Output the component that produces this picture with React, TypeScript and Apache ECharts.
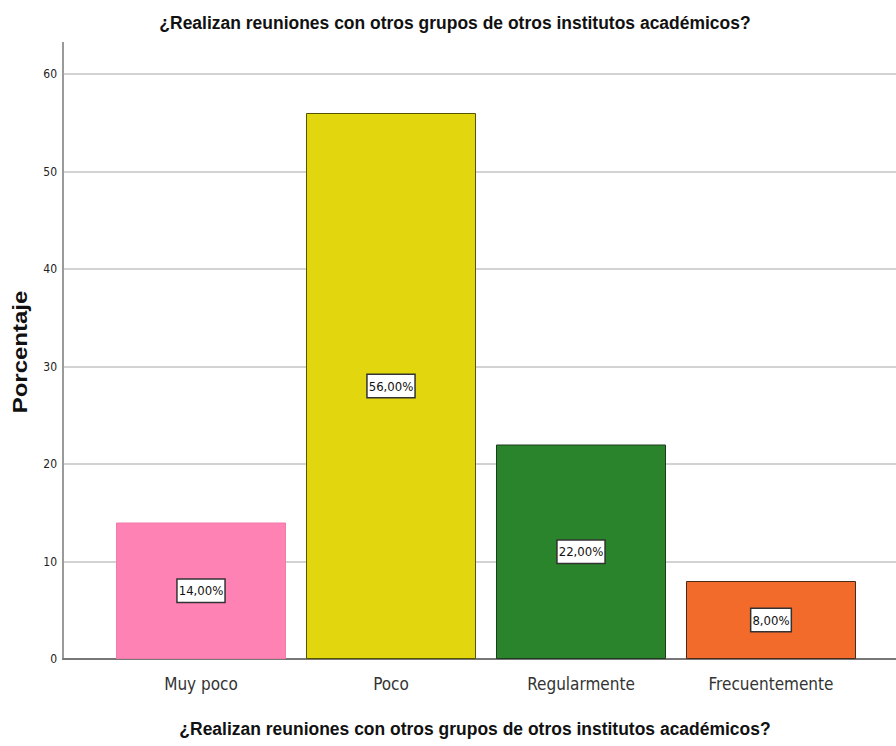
import React, { useEffect, useRef } from "react";
import * as echarts from "echarts";

const categories = ["Muy poco", "Poco", "Regularmente", "Frecuentemente"];
const percentages = [14, 56, 22, 8];
const barColors = ["#FF82B4", "#E2D70F", "#2A842B", "#F26B2A"];
const barBorders = ["#F07AA8", "#555500", "#1F3A1F", "#4A2A18"];
const yTicks = { min: 0, max: 60, interval: 10 };
const titleText = "¿Realizan reuniones con otros grupos de otros institutos académicos?";
const yAxisTitle = "Porcentaje";

const NARROW = '"Liberation Sans Narrow", "Arial Narrow", "DejaVu Sans Condensed", sans-serif';
const ARIAL = '"Liberation Sans", Arial, sans-serif';

export default function App() {
  const ref = useRef<HTMLDivElement>(null);
  useEffect(() => {
    document.body.style.margin = "0";
    const chart = echarts.init(ref.current!, null, { renderer: "svg" });
    chart.setOption({
      animation: false,
      backgroundColor: "#ffffff",
      graphic: [
        {
          type: "text",
          x: 455,
          y: 22,
          scaleX: 0.92,
          style: {
            text: titleText,
            fontFamily: ARIAL,
            fontSize: 19,
            fontWeight: "bold",
            fill: "#111",
            align: "center",
            verticalAlign: "middle",
          },
        },
        {
          type: "text",
          x: 475,
          y: 728,
          scaleX: 0.92,
          style: {
            text: titleText,
            fontFamily: ARIAL,
            fontSize: 19,
            fontWeight: "bold",
            fill: "#111",
            align: "center",
            verticalAlign: "middle",
          },
        },
        {
          type: "line",
          shape: { x1: 63, y1: 42, x2: 63, y2: 74 },
          style: { stroke: "#9a9a9a", lineWidth: 2 },
        },
        {
          type: "text",
          x: 20,
          y: 352,
          rotation: Math.PI / 2,
          scaleX: 1.2,
          style: {
            text: yAxisTitle,
            fontFamily: ARIAL,
            fontSize: 20,
            fontWeight: "bold",
            fill: "#111",
            align: "center",
            verticalAlign: "middle",
          },
        },
      ],
      grid: [
        { left: 63, right: 0, top: 74, bottom: 87 },
        { left: 106, width: 760, top: 74, bottom: 87 },
      ],
      xAxis: [
        {
          gridIndex: 0,
          type: "value",
          min: 0,
          max: 1,
          axisLine: { show: true, onZero: false, lineStyle: { color: "#777", width: 2 } },
          axisTick: { show: false },
          axisLabel: { show: false },
          splitLine: { show: false },
        },
        {
          gridIndex: 1,
          type: "category",
          data: categories,
          axisLine: { show: false },
          axisTick: { show: false },
          axisLabel: {
            fontFamily: NARROW,
            fontSize: 17,
            color: "#333",
            margin: 16,
          },
        },
      ],
      yAxis: [
        {
          gridIndex: 0,
          type: "value",
          min: yTicks.min,
          max: yTicks.max,
          interval: yTicks.interval,
          axisLine: { show: true, lineStyle: { color: "#9a9a9a", width: 2 } },
          axisTick: { show: false },
          axisLabel: { fontFamily: NARROW, fontSize: 12, color: "#222", margin: 6 },
          splitLine: { show: true, lineStyle: { color: "#d2d2d2", width: 2 } },
        },
        {
          gridIndex: 1,
          type: "value",
          min: yTicks.min,
          max: yTicks.max,
          interval: yTicks.interval,
          show: false,
          splitLine: { show: false },
        },
      ],
      series: [
        {
          type: "bar",
          xAxisIndex: 1,
          yAxisIndex: 1,
          barWidth: 170,
          z: 3,
          data: percentages.map((v, i) => ({
            value: v,
            itemStyle: { color: barColors[i], borderColor: barBorders[i], borderWidth: 1 },
          })),
          label: {
            show: true,
            position: "inside",
            formatter: (p: any) => p.value.toFixed(2).replace(".", ",") + "%",
            fontFamily: NARROW,
            fontSize: 13,
            color: "#111",
            backgroundColor: "#ffffff",
            borderColor: "#333",
            borderWidth: 1.5,
            padding: [5, 1, 4, 1],
          },
        },
      ],
    });
    return () => chart.dispose();
  }, []);
  return <div ref={ref} style={{ width: 896, height: 746 }} />;
}
